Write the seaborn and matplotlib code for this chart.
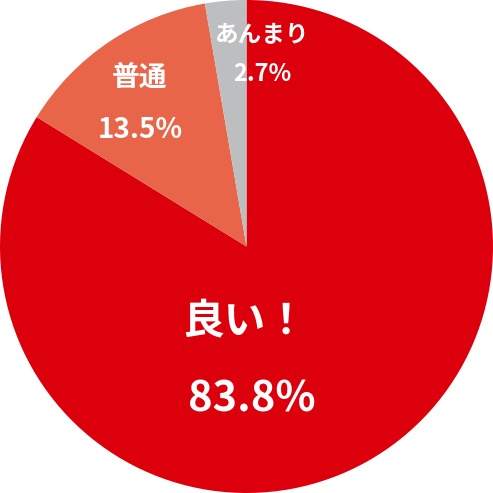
import matplotlib
matplotlib.use("Agg")
import matplotlib.pyplot as plt
import seaborn as sns

sns.set_theme(style="white")
plt.rcParams['font.family'] = ['Noto Sans CJK JP', 'DejaVu Sans']

categories = ["良い！", "普通", "あんまり"]
values = [83.8, 13.5, 2.7]
colors = ["#DC000C", "#E9654A", "#BDBEC0"]

fig = plt.figure(figsize=(4.93, 4.93), dpi=100)
ax = fig.add_axes([0, 0, 1, 1])
ax.pie(values, colors=colors, startangle=90, counterclock=False, radius=1,
       wedgeprops=dict(linewidth=0))
ax.set_xlim(-1.0, 1.0)
ax.set_ylim(-1.0, 1.0)
ax.set_aspect('equal')
ax.axis('off')

def px(x, y):
    return (x - 246.5) / 246.5, (246.5 - y) / 246.5

def lab(x, y, s, size):
    ax.text(*px(x, y), s, color="white", fontsize=size, fontweight="bold",
            ha="center", va="center")

lab(245, 322, categories[0], 30)
lab(252, 400, f"{values[0]}%", 30)
lab(140, 78, categories[1], 20)
lab(140, 130, f"{values[1]}%", 20)
lab(262, 35, categories[2], 17)
lab(262, 74, f"{values[2]}%", 17)

fig.savefig("out.png", dpi=100, facecolor="white")
